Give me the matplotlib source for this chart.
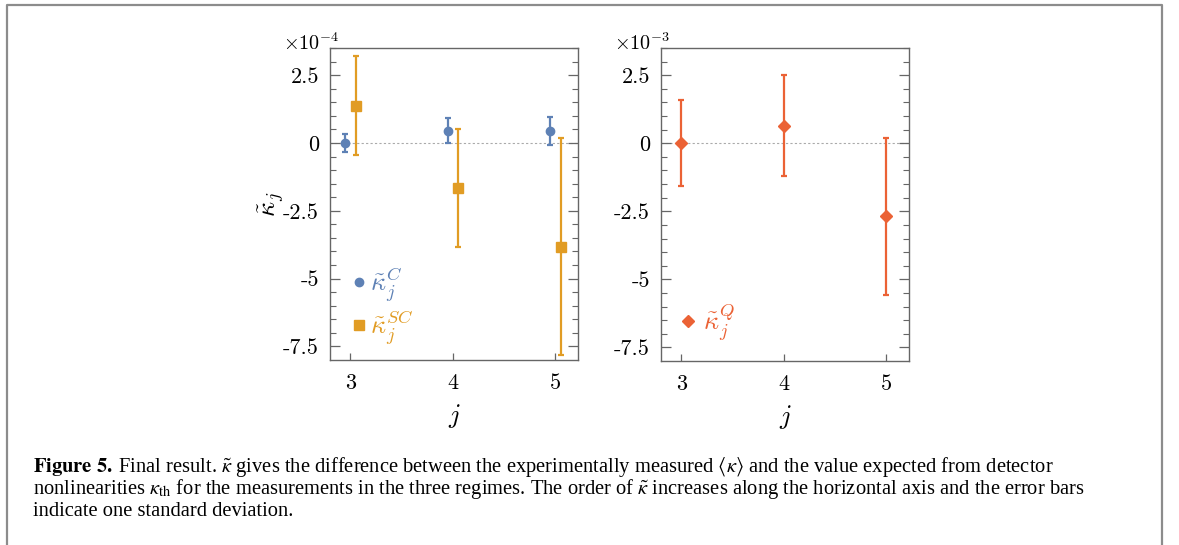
"""Final result: kappa tilde for the three regimes, with 1-sigma error bars."""

import matplotlib

matplotlib.use("Agg")
import matplotlib.pyplot as plt
from matplotlib.lines import Line2D

plt.rcParams["mathtext.fontset"] = "cm"

# data (left panel in units of 1e-4, right panel in units of 1e-3)
orders = [3, 4, 5]
kappa_c = [0.0, 0.45, 0.43]
kappa_c_err = [0.33, 0.46, 0.52]
kappa_sc = [1.37, -1.65, -3.82]
kappa_sc_err = [1.82, 2.17, 4.0]
kappa_q = [0.0, 0.64, -2.68]
kappa_q_err = [1.58, 1.85, 2.89]

ytick_vals = [-7.5, -5, -2.5, 0, 2.5]
ytick_labels = ["-7.5", "-5", "-2.5", "0", "2.5"]
xtick_labels = ["3", "4", "5"]

BLUE = "#5E81B5"
ORANGE = "#E19C24"
RED = "#EB6235"
SPINE = "#666666"

caption = [
    r"$\mathbf{Figure\ 5.}\;$Final result. $\tilde{\kappa}$ gives the difference between the "
    r"experimentally measured $\langle\kappa\rangle$ and the value expected from detector",
    r"nonlinearities $\kappa_{\mathrm{th}}$ for the measurements in the three regimes. "
    r"The order of $\tilde{\kappa}$ increases along the horizontal axis and the error bars",
    "indicate one standard deviation.",
]

W, H = 1179, 545
fig = plt.figure(figsize=(W / 100, H / 100), dpi=100)
ax1 = fig.add_axes([330 / W, 1 - 360 / H, 248 / W, 312 / H])
ax2 = fig.add_axes([661 / W, 1 - 361 / H, 248 / W, 313 / H])


def style_axes(ax, power):
    ax.set_xlim(2.8, 5.22)
    ax.set_ylim(-8, 3.5)
    ax.axhline(0, color="#aaaaaa", ls=(0, (2, 2)), lw=0.8, zorder=0)
    ax.set_xticks(orders, xtick_labels, fontfamily="cmr10", fontsize=16)
    ax.set_yticks(ytick_vals, ytick_labels, fontfamily="cmr10", fontsize=16)
    ax.set_yticks([v for v in [-7.5 + 0.5 * i for i in range(23)] if v not in ytick_vals],
                  minor=True)
    ax.tick_params(axis="y", which="both", direction="in", right=True, color=SPINE, pad=8)
    ax.tick_params(axis="y", which="major", length=7, width=0.9)
    ax.tick_params(axis="y", which="minor", length=4, width=0.8)
    ax.tick_params(axis="x", direction="in", length=5, width=0.9, color=SPINE, pad=10)
    for sp in ax.spines.values():
        sp.set_color(SPINE)
        sp.set_linewidth(1.0)
    ax.set_xlabel(r"$j$", fontsize=19, labelpad=6)
    ax.text(-0.19, 0.995, r"$\times 10^{%d}$" % power, transform=ax.transAxes,
            fontsize=14.5, ha="left", va="baseline")


style_axes(ax1, -4)
style_axes(ax2, -3)

eb = dict(capsize=2.5, capthick=1.6, elinewidth=1.6, ls="none")
ax1.errorbar([x - 0.05 for x in orders], kappa_c, yerr=kappa_c_err, marker="o", ms=6,
             color=BLUE, **eb)
ax1.errorbar([x + 0.05 for x in orders], kappa_sc, yerr=kappa_sc_err, marker="s", ms=7,
             color=ORANGE, **eb)
ax2.errorbar(orders, kappa_q, yerr=kappa_q_err, marker="D", ms=6, color=RED, **eb)

ax1.set_ylabel(r"$\tilde{\kappa}_j$", fontsize=19, labelpad=-3)

h1 = [Line2D([], [], ls="none", marker="o", ms=6, color=BLUE),
      Line2D([], [], ls="none", marker="s", ms=7, color=ORANGE)]
ax1.legend(h1, [r"$\tilde{\kappa}_j^{C}$", r"$\tilde{\kappa}_j^{SC}$"], loc="lower left",
           bbox_to_anchor=(0.065, 0.042), frameon=False, fontsize=19, labelcolor="linecolor",
           handlelength=1.0, handletextpad=-0.1, labelspacing=0.1, borderpad=0,
           borderaxespad=0)
h2 = [Line2D([], [], ls="none", marker="D", ms=6, color=RED)]
ax2.legend(h2, [r"$\tilde{\kappa}_j^{Q}$"], loc="lower left", bbox_to_anchor=(0.056, 0.058),
           frameon=False, fontsize=19, labelcolor="linecolor",
           handlelength=1.0, handletextpad=0.05, borderpad=0, borderaxespad=0)

# page frame
fx0, fx1, fy1 = 7 / W, 1162 / W, 1 - 5 / H
fig.add_artist(Line2D([fx0, fx0, fx1, fx1], [0, fy1, fy1, 0], color="#8c8c8c", lw=1.6))

for i, line in enumerate(caption):
    fig.text(33 / W, 1 - (472 + 22 * i) / H, line, fontfamily="Liberation Serif",
             math_fontfamily="stix", fontsize=14.8, va="baseline", ha="left")

fig.savefig("out.png", dpi=100)
